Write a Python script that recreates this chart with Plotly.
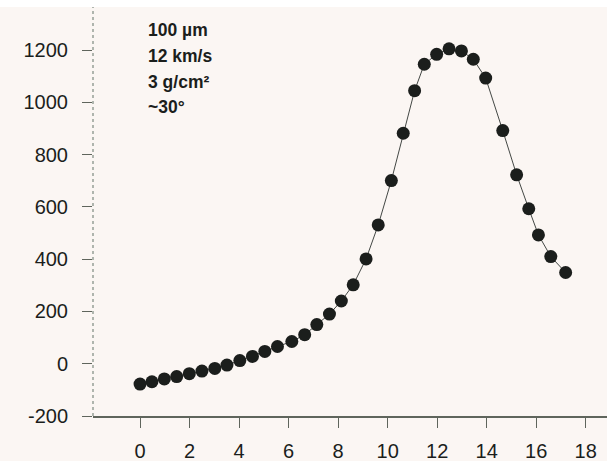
import plotly.graph_objects as go

x_vals = [0.0, 0.48, 0.98, 1.48, 1.99, 2.50, 3.02, 3.51, 4.03, 4.54, 5.04, 5.55,
          6.13, 6.65, 7.14, 7.65, 8.13, 8.61, 9.13, 9.62, 10.15, 10.63, 11.09,
          11.48, 11.98, 12.48, 12.98, 13.46, 13.96, 14.65, 15.21, 15.70, 16.09,
          16.59, 17.19]
y_vals = [-78, -69, -58, -49, -38, -28, -18, -5, 12, 28, 47, 66,
          85, 111, 150, 190, 240, 302, 401, 531, 701, 882, 1045,
          1146, 1184, 1205, 1197, 1165, 1093, 892, 723, 593, 493,
          410, 349]
x_ticks = [0, 2, 4, 6, 8, 10, 12, 14, 16, 18]
y_ticks = [-200, 0, 200, 400, 600, 800, 1000, 1200]
note_lines = ["100 µm", "12 km/s", "3 g/cm²", "~30°"]

BG = "#fbf6f3"
INK = "#1b1e1c"
AX = "#5f655c"

fig = go.Figure()
fig.add_trace(go.Scatter(
    x=x_vals, y=y_vals, mode="lines+markers",
    line=dict(color="#444845", width=1),
    marker=dict(size=13, color=INK, line=dict(width=0)),
    showlegend=False, hoverinfo="skip",
))

W, H = 607, 461
ml, mr, mt, mb = 93, 0, 7, 45
ph = H - mt - mb

fig.update_layout(
    width=W, height=H,
    margin=dict(l=ml, r=mr, t=mt, b=mb, pad=0),
    paper_bgcolor=BG, plot_bgcolor=BG,
    font=dict(family="Liberation Sans, Arial, sans-serif", color=INK),
    xaxis=dict(range=[-1.9, 18.86], tickvals=x_ticks, ticktext=[str(v) for v in x_ticks],
               showgrid=False, zeroline=False, showline=True, linecolor=AX, linewidth=1.5,
               ticks="outside", ticklen=10, tickwidth=1, tickcolor=AX,
               tickfont=dict(size=20, color=INK), ticklabelstandoff=6),
    yaxis=dict(range=[-200, 1365], tickvals=y_ticks, ticktext=[str(v) for v in y_ticks],
               showgrid=False, zeroline=False, showline=False,
               ticks="outside", ticklen=10, tickwidth=1.2, tickcolor=AX,
               tickfont=dict(size=20, color=INK), ticklabelstandoff=10),
)

# dotted vertical axis line
fig.add_shape(type="line", xref="paper", yref="paper", x0=0, x1=0, y0=0, y1=1,
              line=dict(color="#7d8a80", width=1.2, dash="dot"))
# white strip at top of scan
fig.add_shape(type="rect", xref="paper", yref="paper", x0=-ml / (W - ml - mr), x1=1,
              y0=1, y1=1 + mt / ph, fillcolor="white", line=dict(width=0), layer="above")

line_px = [30, 56, 82, 107]
for txt, py in zip(note_lines, line_px):
    fig.add_annotation(text="<b>" + txt + "</b>", xref="paper", yref="paper",
                       x=(146 - ml) / (W - ml - mr), y=1 - (py - mt) / ph,
                       xanchor="left", yanchor="middle", showarrow=False,
                       font=dict(size=17.5, color=INK, family="Liberation Sans, Arial, sans-serif"))

fig.write_html("out.html", config={"displayModeBar": False},
               post_script="document.body.style.margin='0';")
